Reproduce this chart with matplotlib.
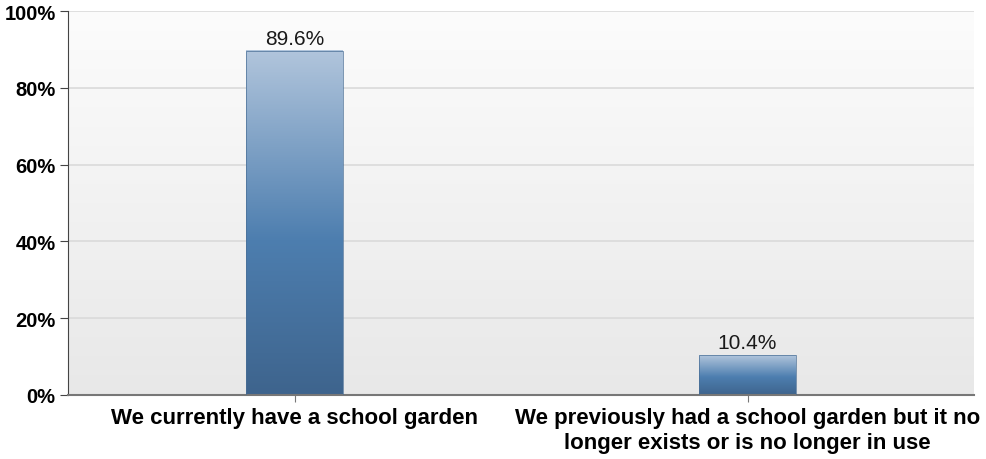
import numpy as np
import matplotlib
matplotlib.use("Agg")
import matplotlib.pyplot as plt
from matplotlib.colors import LinearSegmentedColormap

categories = ["We currently have a school garden",
              "We previously had a school garden but it no\nlonger exists or is no longer in use"]
values = [89.6, 10.4]
value_labels = ["89.6%", "10.4%"]
yticks = [0, 20, 40, 60, 80, 100]
ytick_labels = ["0%", "20%", "40%", "60%", "80%", "100%"]

plt.rcParams['font.family'] = ['Liberation Sans', 'DejaVu Sans']

fig = plt.figure(figsize=(9.86, 4.6), dpi=100)
ax = fig.add_axes([68 / 986, 1 - 396 / 460, 906 / 986, 384 / 460])

# background gradient (white at top to light grey)
bg = LinearSegmentedColormap.from_list("bg", ["#e8e8e8", "#fcfcfc"])
grad = np.linspace(0, 1, 256).reshape(-1, 1)
ax.imshow(grad, cmap=bg, origin="lower", aspect="auto",
          extent=[0, 1, 0, 1], transform=ax.transAxes, zorder=0)

x = np.arange(len(categories))
bars = ax.bar(x, values, width=0.214, color="none",
              edgecolor="#4a6f96", linewidth=0.5, zorder=3)

barcmap = LinearSegmentedColormap.from_list(
    "bar", [(0, "#3e648d"), (0.45, "#4d7eaf"), (1, "#b1c5dc")])
for b in bars:
    x0, y0 = b.get_x(), b.get_y()
    w, h = b.get_width(), b.get_height()
    ax.imshow(grad, cmap=barcmap, origin="lower", aspect="auto",
              extent=[x0, x0 + w, y0, y0 + h], zorder=2)

for xi, v, lab in zip(x, values, value_labels):
    ax.text(xi, v + 0.7, lab, ha="center", va="bottom", fontsize=15,
            color="#1a1a1a", zorder=4)

ax.set_xlim(-0.5, 1.5)
ax.set_ylim(0, 100)
ax.set_yticks(yticks)
ax.set_yticklabels(ytick_labels, fontsize=14.5, fontweight="bold")
ax.set_xticks(x)
ax.set_xticklabels(categories, fontsize=16, fontweight="bold", linespacing=1.2)
ax.yaxis.grid(True, color="#dadada", linewidth=1.2, zorder=1)
ax.set_axisbelow(True)

for s in ["top", "right"]:
    ax.spines[s].set_visible(False)
ax.spines["left"].set_color("#444444")
ax.spines["bottom"].set_color("#777777")
ax.spines["bottom"].set_linewidth(1.5)
ax.tick_params(axis="y", length=6, color="#444444", pad=3)
ax.tick_params(axis="x", length=5, color="#777777", pad=4)

fig.savefig("out.png", dpi=100)
